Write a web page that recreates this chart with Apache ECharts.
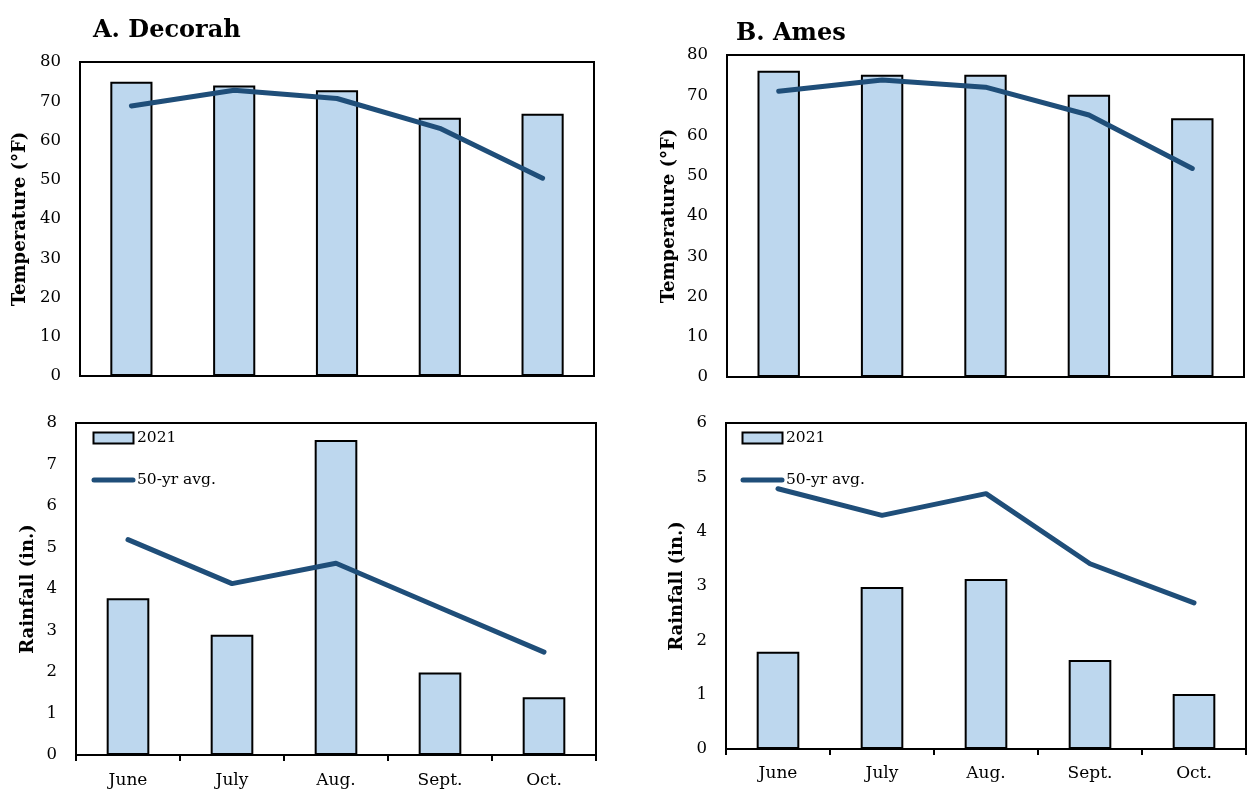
<!DOCTYPE html>
<html>
<head>
<meta charset="utf-8">
<script src="https://cdn.jsdelivr.net/npm/echarts@6/dist/echarts.min.js"></script>
<style>
html,body{margin:0;padding:0;background:#fff;}
#chart{width:1257px;height:801px;}
</style>
</head>
<body>
<div id="chart"></div>
<script>
var months = ['June', 'July', 'Aug.', 'Sept.', 'Oct.'];
var decorahTemp2021 = [75.0, 74.0, 72.8, 65.8, 66.8];
var decorahTempAvg = [68.8, 72.8, 70.7, 63.1, 50.4];
var decorahRain2021 = [3.78, 2.90, 7.59, 1.99, 1.39];
var decorahRainAvg = [5.19, 4.13, 4.62, 3.55, 2.48];
var amesTemp2021 = [76.1, 75.1, 75.1, 70.1, 64.3];
var amesTempAvg = [71.0, 73.8, 72.0, 65.1, 51.8];
var amesRain2021 = [1.79, 2.98, 3.13, 1.64, 1.01];
var amesRainAvg = [4.79, 4.30, 4.70, 3.41, 2.69];
var tempTicks = [0, 80, 10];
var decorahRainTicks = [0, 8, 1];
var amesRainTicks = [0, 6, 1];

var FONT = 'DejaVu Serif';
var BAR = '#BDD7EE';
var LINE = '#1F4E79';
var LINE_ICON = 'path://M0,0M45,12M3,3.5L42,3.5A2.5,2.5,0,0,1,42,8.5L3,8.5A2.5,2.5,0,0,1,3,3.5Z';
var BAR_ICON = 'path://M0,0M45,12M2.5,0.5L42.5,0.5L42.5,11.5L2.5,11.5Z';

var chart = echarts.init(document.getElementById('chart'), null, {renderer: 'canvas'});

function gridBox(l, t, w, h) {
  return {left: l, top: t, width: w, height: h, show: true, borderColor: '#000', borderWidth: 2, backgroundColor: 'transparent', containLabel: false};
}
function xAx(idx, showLabels, margin) {
  return {
    type: 'category', gridIndex: idx, data: months, boundaryGap: true,
    axisLine: {show: true, lineStyle: {color: '#000', width: 2}},
    axisTick: {show: showLabels, length: 6, lineStyle: {color: '#000', width: 2}},
    axisLabel: {show: showLabels, interval: 0, margin: margin, color: '#000', fontFamily: FONT, fontSize: 17},
    splitLine: {show: false}
  };
}
function yAx(idx, ticks, name, gap) {
  return {
    type: 'value', gridIndex: idx, min: ticks[0], max: ticks[1], interval: ticks[2],
    name: name, nameLocation: 'middle', nameGap: gap,
    nameTextStyle: {fontFamily: FONT, fontWeight: 'bold', fontSize: 18, color: '#000'},
    axisLine: {show: true, lineStyle: {color: '#000', width: 2}},
    axisTick: {show: false},
    axisLabel: {margin: 19, color: '#000', fontFamily: FONT, fontSize: 16.5},
    splitLine: {show: false}
  };
}
function barS(idx, data) {
  return {name: '2021', type: 'bar', xAxisIndex: idx, yAxisIndex: idx, data: data, barWidth: '41%',
    itemStyle: {color: BAR, borderColor: '#000', borderWidth: 2}, animation: false};
}
function lineS(idx, data) {
  return {name: '50-yr avg.', type: 'line', xAxisIndex: idx, yAxisIndex: idx, data: data, symbol: 'none',
    itemStyle: {color: LINE}, lineStyle: {color: LINE, width: 5, cap: 'round', join: 'round'}, animation: false, z: 3};
}
function legend(l, t) {
  return {
    orient: 'vertical', left: l, top: t, itemWidth: 45, itemHeight: 12, itemGap: 26, padding: 0,
    textStyle: {fontFamily: FONT, fontSize: 15.5, color: '#000', lineHeight: 16, padding: [0, 0, 0, -4]},
    data: [
      {name: '2021', icon: BAR_ICON, itemStyle: {color: BAR, borderColor: '#000', borderWidth: 2}},
      {name: '50-yr avg.', icon: LINE_ICON, itemStyle: {color: LINE, borderWidth: 0}}
    ],
    selectedMode: false
  };
}

chart.setOption({
  backgroundColor: '#fff',
  animation: false,
  title: [
    {text: 'A. Decorah', left: 93, top: 19, padding: 0, textStyle: {fontFamily: FONT, fontWeight: 'bold', fontSize: 24, color: '#000'}},
    {text: 'B. Ames', left: 736, top: 22, padding: 0, textStyle: {fontFamily: FONT, fontWeight: 'bold', fontSize: 24, color: '#000'}}
  ],
  grid: [
    gridBox(80, 62, 514, 314),
    gridBox(76, 423, 520, 332),
    gridBox(727, 55, 517, 322),
    gridBox(726, 423, 520, 326)
  ],
  xAxis: [xAx(0, false, 0), xAx(1, true, 17), xAx(2, false, 0), xAx(3, true, 16)],
  yAxis: [
    yAx(0, tempTicks, 'Temperature (°F)', 51),
    yAx(1, decorahRainTicks, 'Rainfall (in.)', 39),
    yAx(2, tempTicks, 'Temperature (°F)', 49),
    yAx(3, amesRainTicks, 'Rainfall (in.)', 40)
  ],
  legend: [legend(90, 430), legend(739, 430)],
  series: [
    barS(0, decorahTemp2021), lineS(0, decorahTempAvg),
    barS(1, decorahRain2021), lineS(1, decorahRainAvg),
    barS(2, amesTemp2021), lineS(2, amesTempAvg),
    barS(3, amesRain2021), lineS(3, amesRainAvg)
  ]
});
</script>
</body>
</html>
